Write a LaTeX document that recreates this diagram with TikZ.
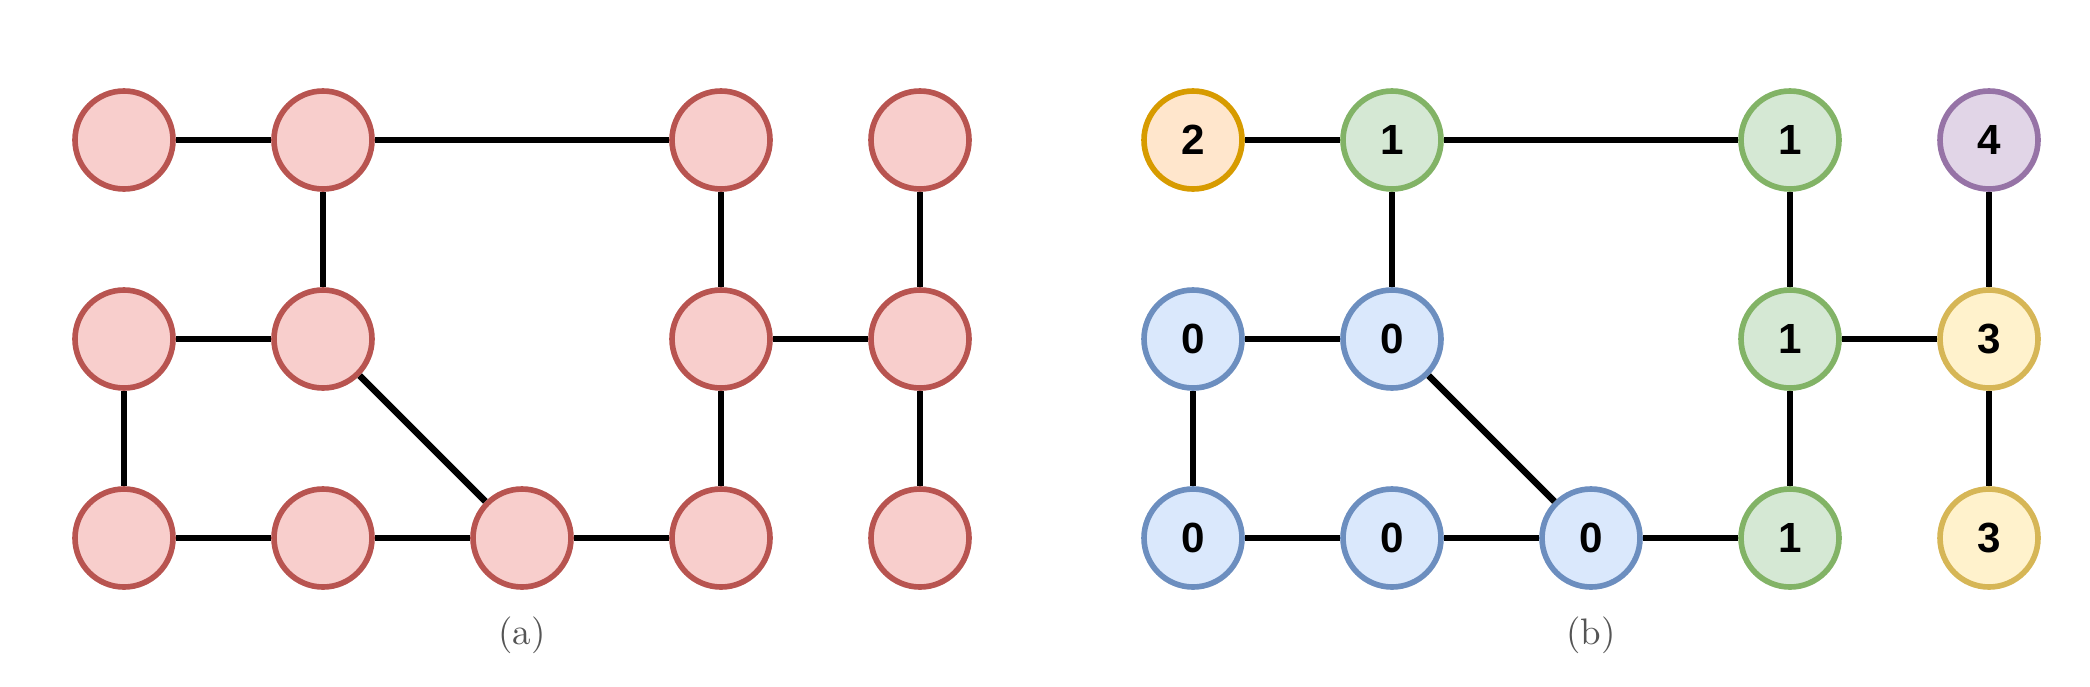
\documentclass[tikz,border=0pt]{standalone}
\usepackage{fontspec}
\newfontfamily\numfont{Liberation Sans}
\usetikzlibrary{positioning}

\definecolor{redfill}{HTML}{F8CECC}
\definecolor{redline}{HTML}{B85450}
\definecolor{orgfill}{HTML}{FFE6CC}
\definecolor{orgline}{HTML}{D79B00}
\definecolor{grnfill}{HTML}{D5E8D4}
\definecolor{grnline}{HTML}{82B366}
\definecolor{blufill}{HTML}{DAE8FC}
\definecolor{bluline}{HTML}{6C8EBF}
\definecolor{purfill}{HTML}{E1D5E7}
\definecolor{purline}{HTML}{9673A6}
\definecolor{ylwfill}{HTML}{FFF2CC}
\definecolor{ylwline}{HTML}{D6B656}
\definecolor{capgray}{HTML}{555555}

\tikzset{
  vtx/.style={circle,line width=1.6pt,minimum size=0.98cm,inner sep=0pt,
    font=\numfont\bfseries\fontsize{12}{12}\selectfont},
  vred/.style={vtx,draw=redline,fill=redfill},
  vorg/.style={vtx,draw=orgline,fill=orgfill},
  vgrn/.style={vtx,draw=grnline,fill=grnfill},
  vblu/.style={vtx,draw=bluline,fill=blufill},
  vpur/.style={vtx,draw=purline,fill=purfill},
  vylw/.style={vtx,draw=ylwline,fill=ylwfill},
  link/.style={line width=1.9pt,black},
  caption/.style={text=capgray,font=\fontsize{10.5}{10.5}\selectfont}
}

\begin{document}
\begin{tikzpicture}
\useasboundingbox (0,0) rectangle (20.9,6.86);

% (a) uncoloured graph
\node[vred] (a11) at (1.24,5.46) {};
\node[vred] (a12) at (3.23,5.46) {};
\node[vred] (a14) at (7.21,5.46) {};
\node[vred] (a15) at (9.20,5.46) {};
\node[vred] (a21) at (1.24,3.47) {};
\node[vred] (a22) at (3.23,3.47) {};
\node[vred] (a24) at (7.21,3.47) {};
\node[vred] (a25) at (9.20,3.47) {};
\node[vred] (a31) at (1.24,1.48) {};
\node[vred] (a32) at (3.23,1.48) {};
\node[vred] (a33) at (5.22,1.48) {};
\node[vred] (a34) at (7.21,1.48) {};
\node[vred] (a35) at (9.20,1.48) {};

\draw[link] (a11) -- (a12);
\draw[link] (a12) -- (a14);
\draw[link] (a12) -- (a22);
\draw[link] (a14) -- (a24);
\draw[link] (a15) -- (a25);
\draw[link] (a21) -- (a22);
\draw[link] (a24) -- (a25);
\draw[link] (a21) -- (a31);
\draw[link] (a22) -- (a33);
\draw[link] (a24) -- (a34);
\draw[link] (a25) -- (a35);
\draw[link] (a31) -- (a32);
\draw[link] (a32) -- (a33);
\draw[link] (a33) -- (a34);

\node[caption] (capa) at (5.22,0.51) {(a)};

% (b) coloured graph
\node[vorg] (b11) at (11.93,5.46) {2};
\node[vgrn] (b12) at (13.92,5.46) {1};
\node[vgrn] (b14) at (17.90,5.46) {1};
\node[vpur] (b15) at (19.89,5.46) {4};
\node[vblu] (b21) at (11.93,3.47) {0};
\node[vblu] (b22) at (13.92,3.47) {0};
\node[vgrn] (b24) at (17.90,3.47) {1};
\node[vylw] (b25) at (19.89,3.47) {3};
\node[vblu] (b31) at (11.93,1.48) {0};
\node[vblu] (b32) at (13.92,1.48) {0};
\node[vblu] (b33) at (15.91,1.48) {0};
\node[vgrn] (b34) at (17.90,1.48) {1};
\node[vylw] (b35) at (19.89,1.48) {3};

\draw[link] (b11) -- (b12);
\draw[link] (b12) -- (b14);
\draw[link] (b12) -- (b22);
\draw[link] (b14) -- (b24);
\draw[link] (b15) -- (b25);
\draw[link] (b21) -- (b22);
\draw[link] (b24) -- (b25);
\draw[link] (b21) -- (b31);
\draw[link] (b22) -- (b33);
\draw[link] (b24) -- (b34);
\draw[link] (b25) -- (b35);
\draw[link] (b31) -- (b32);
\draw[link] (b32) -- (b33);
\draw[link] (b33) -- (b34);

\node[caption] (capb) at (15.91,0.51) {(b)};
\end{tikzpicture}
\end{document}
